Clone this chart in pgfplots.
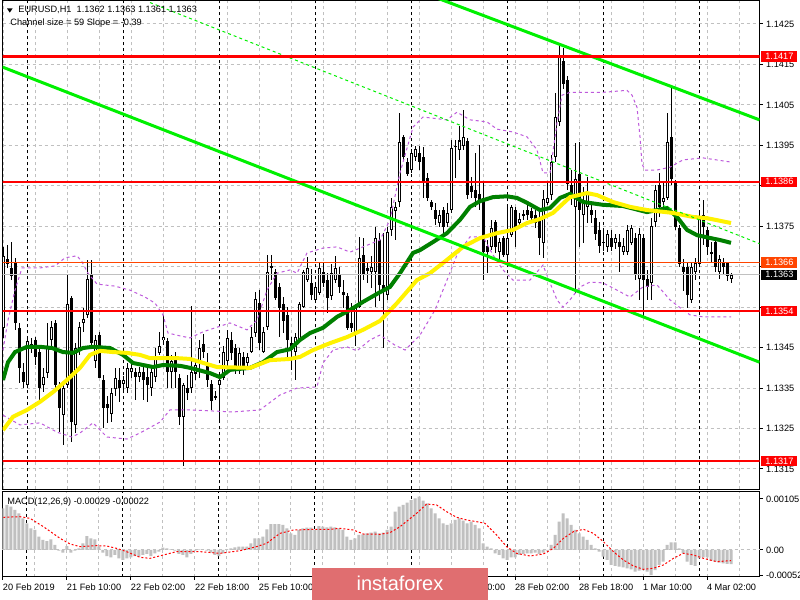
\documentclass[border=0pt]{standalone}
\usepackage{fontspec}
\setmainfont{Liberation Sans}
\usepackage{pgfplots}
\usepackage{pgfplotstable}
\pgfplotsset{compat=1.18}

\definecolor{gridgray}{RGB}{192,192,192}
\definecolor{chanlime}{RGB}{0,240,0}
\definecolor{magreen}{RGB}{0,128,0}
\definecolor{bandpurple}{RGB}{190,90,220}
\definecolor{orangered}{RGB}{255,69,0}
\definecolor{logored}{RGB}{224,110,112}
\newcommand\mtfont{\fontsize{4.6}{5.5}\selectfont}

% EURUSD H1 candles: bar index, open, high, low, close
\pgfplotstableread{
i o h l c
0 1.13499 1.13699 1.13476 1.13677
1 1.13669 1.13704 1.13647 1.13657
2 1.13649 1.13711 1.13617 1.13627
3 1.13659 1.13672 1.13494 1.13511
4 1.13501 1.13511 1.13363 1.13400
5 1.13390 1.13412 1.13350 1.13365
6 1.13358 1.13476 1.13350 1.13469
7 1.13449 1.13474 1.13437 1.13459
8 1.13469 1.13476 1.13407 1.13427
9 1.13439 1.13449 1.13316 1.13350
10 1.13358 1.13400 1.13340 1.13377
11 1.13387 1.13511 1.13375 1.13454
12 1.13469 1.13518 1.13456 1.13501
13 1.13511 1.13518 1.13350 1.13358
14 1.13358 1.13365 1.13241 1.13301
15 1.13283 1.13363 1.13209 1.13350
16 1.13358 1.13630 1.13350 1.13560
17 1.13573 1.13580 1.13217 1.13266
18 1.13259 1.13464 1.13241 1.13449
19 1.13449 1.13513 1.13432 1.13501
20 1.13511 1.13548 1.13489 1.13521
21 1.13531 1.13667 1.13523 1.13620
22 1.13630 1.13667 1.13456 1.13461
23 1.13419 1.13481 1.13400 1.13469
24 1.13481 1.13489 1.13375 1.13377
25 1.13370 1.13382 1.13251 1.13301
26 1.13311 1.13333 1.13266 1.13301
27 1.13288 1.13350 1.13266 1.13338
28 1.13350 1.13400 1.13333 1.13377
29 1.13370 1.13400 1.13316 1.13350
30 1.13360 1.13382 1.13340 1.13370
31 1.13350 1.13414 1.13340 1.13400
32 1.13390 1.13414 1.13375 1.13400
33 1.13390 1.13400 1.13321 1.13377
34 1.13377 1.13402 1.13365 1.13390
35 1.13390 1.13405 1.13321 1.13370
36 1.13377 1.13400 1.13316 1.13358
37 1.13350 1.13400 1.13333 1.13390
38 1.13377 1.13449 1.13365 1.13427
39 1.13439 1.13489 1.13432 1.13456
40 1.13469 1.13531 1.13456 1.13476
41 1.13466 1.13476 1.13350 1.13390
42 1.13390 1.13432 1.13350 1.13419
43 1.13427 1.13439 1.13350 1.13390
44 1.13377 1.13387 1.13259 1.13279
45 1.13279 1.13365 1.13160 1.13358
46 1.13350 1.13382 1.13321 1.13340
47 1.13350 1.13555 1.13340 1.13390
48 1.13387 1.13419 1.13370 1.13407
49 1.13414 1.13469 1.13377 1.13449
50 1.13461 1.13486 1.13427 1.13439
51 1.13407 1.13437 1.13353 1.13370
52 1.13360 1.13370 1.13296 1.13318
53 1.13330 1.13345 1.13321 1.13329
54 1.13358 1.13382 1.13264 1.13370
55 1.13375 1.13456 1.13370 1.13439
56 1.13419 1.13494 1.13407 1.13476
57 1.13469 1.13489 1.13419 1.13437
58 1.13449 1.13461 1.13387 1.13395
59 1.13395 1.13449 1.13387 1.13437
60 1.13427 1.13439 1.13382 1.13395
61 1.13412 1.13437 1.13395 1.13427
62 1.13439 1.13501 1.13437 1.13476
63 1.13486 1.13587 1.13476 1.13570
64 1.13560 1.13592 1.13444 1.13461
65 1.13439 1.13501 1.13437 1.13489
66 1.13501 1.13679 1.13494 1.13637
67 1.13652 1.13679 1.13617 1.13647
68 1.13637 1.13647 1.13568 1.13573
69 1.13600 1.13610 1.13476 1.13550
70 1.13560 1.13575 1.13486 1.13518
71 1.13531 1.13550 1.13419 1.13469
72 1.13461 1.13476 1.13395 1.13444
73 1.13439 1.13486 1.13370 1.13476
74 1.13469 1.13563 1.13461 1.13560
75 1.13550 1.13642 1.13548 1.13637
76 1.13617 1.13674 1.13612 1.13649
77 1.13610 1.13647 1.13568 1.13580
78 1.13568 1.13610 1.13563 1.13600
79 1.13587 1.13662 1.13580 1.13649
80 1.13637 1.13659 1.13600 1.13610
81 1.13617 1.13637 1.13538 1.13573
82 1.13578 1.13659 1.13568 1.13637
83 1.13617 1.13679 1.13612 1.13649
84 1.13630 1.13649 1.13585 1.13600
85 1.13587 1.13617 1.13548 1.13580
86 1.13580 1.13587 1.13494 1.13501
87 1.13511 1.13560 1.13489 1.13499
88 1.13486 1.13560 1.13456 1.13550
89 1.13550 1.13724 1.13548 1.13672
90 1.13679 1.13721 1.13617 1.13630
91 1.13649 1.13662 1.13610 1.13642
92 1.13637 1.13679 1.13600 1.13649
93 1.13637 1.13748 1.13550 1.13721
94 1.13716 1.13736 1.13568 1.13605
95 1.13605 1.13733 1.13449 1.13587
96 1.13580 1.13748 1.13568 1.13736
97 1.13741 1.13822 1.13728 1.13798
98 1.13788 1.13810 1.13716 1.13798
99 1.13810 1.14030 1.13798 1.13958
100 1.13971 1.13976 1.13914 1.13921
101 1.13909 1.13919 1.13874 1.13879
102 1.13889 1.13943 1.13882 1.13931
103 1.13921 1.13951 1.13914 1.13941
104 1.13931 1.13948 1.13889 1.13909
105 1.13921 1.13946 1.13820 1.13859
106 1.13869 1.13882 1.13815 1.13820
107 1.13810 1.13815 1.13790 1.13798
108 1.13790 1.13808 1.13753 1.13770
109 1.13758 1.13790 1.13748 1.13780
110 1.13790 1.13798 1.13733 1.13748
111 1.13758 1.13808 1.13748 1.13783
112 1.13790 1.13963 1.13783 1.13943
113 1.13951 1.13963 1.13869 1.13948
114 1.13939 1.14000 1.13914 1.13963
115 1.13948 1.14037 1.13939 1.13971
116 1.13961 1.13968 1.13817 1.13827
117 1.13850 1.13872 1.13820 1.13835
118 1.13840 1.13931 1.13798 1.13820
119 1.13830 1.13951 1.13790 1.13808
120 1.13820 1.13857 1.13617 1.13686
121 1.13701 1.13716 1.13634 1.13686
122 1.13699 1.13766 1.13691 1.13748
123 1.13761 1.13766 1.13684 1.13699
124 1.13686 1.13721 1.13667 1.13711
125 1.13721 1.13726 1.13674 1.13679
126 1.13679 1.13798 1.13659 1.13721
127 1.13731 1.13803 1.13724 1.13798
128 1.13790 1.13798 1.13699 1.13748
129 1.13758 1.13783 1.13748 1.13770
130 1.13780 1.13790 1.13766 1.13779
131 1.13790 1.13803 1.13766 1.13778
132 1.13788 1.13795 1.13761 1.13770
133 1.13780 1.13790 1.13746 1.13758
134 1.13770 1.13790 1.13679 1.13721
135 1.13709 1.13840 1.13672 1.13820
136 1.13808 1.13859 1.13803 1.13820
137 1.13827 1.13926 1.13815 1.13909
138 1.13921 1.14079 1.13909 1.14020
139 1.14008 1.14198 1.14000 1.14171
140 1.14159 1.14191 1.14092 1.14102
141 1.14112 1.14121 1.13840 1.13857
142 1.13852 1.13889 1.13803 1.13822
143 1.13798 1.13958 1.13587 1.13869
144 1.13879 1.13958 1.13699 1.13790
145 1.13778 1.13847 1.13709 1.13810
146 1.13798 1.13872 1.13758 1.13832
147 1.13790 1.13808 1.13758 1.13778
148 1.13770 1.13790 1.13716 1.13731
149 1.13741 1.13761 1.13686 1.13701
150 1.13711 1.13741 1.13691 1.13709
151 1.13699 1.13741 1.13686 1.13733
152 1.13721 1.13741 1.13691 1.13699
153 1.13709 1.13733 1.13696 1.13721
154 1.13711 1.13733 1.13637 1.13699
155 1.13686 1.13721 1.13679 1.13701
156 1.13686 1.13753 1.13679 1.13741
157 1.13709 1.13753 1.13704 1.13746
158 1.13721 1.13733 1.13617 1.13630
159 1.13620 1.13746 1.13568 1.13731
160 1.13721 1.13733 1.13531 1.13617
161 1.13620 1.13642 1.13568 1.13600
162 1.13610 1.13770 1.13568 1.13751
163 1.13761 1.13852 1.13748 1.13840
164 1.13852 1.13882 1.13773 1.13798
165 1.13810 1.13857 1.13790 1.13822
166 1.13822 1.14030 1.13815 1.13961
167 1.13971 1.14092 1.13852 1.13869
168 1.13857 1.13864 1.13741 1.13748
169 1.13748 1.13753 1.13649 1.13659
170 1.13649 1.13672 1.13592 1.13637
171 1.13649 1.13662 1.13548 1.13580
172 1.13568 1.13662 1.13560 1.13649
173 1.13637 1.13672 1.13617 1.13659
174 1.13659 1.13783 1.13654 1.13770
175 1.13780 1.13815 1.13704 1.13748
176 1.13741 1.13748 1.13679 1.13699
177 1.13686 1.13711 1.13662 1.13685
178 1.13711 1.13721 1.13637 1.13649
179 1.13637 1.13679 1.13620 1.13669
180 1.13659 1.13672 1.13630 1.13649
181 1.13659 1.13662 1.13617 1.13627
182 1.13620 1.13635 1.13610 1.13630
}\candles

% MACD(12,26,9) histogram
\pgfplotstableread{
i v
0 0.000858
1 0.000927
2 0.000892
3 0.000824
4 0.000755
5 0.000652
6 0.000549
7 0.000446
8 0.000412
9 0.000275
10 0.000206
11 0.000185
12 0.000220
13 0.000103
14 -0.000014
15 -0.000055
16 0.000082
17 -0.000055
18 -0.000014
19 0.000034
20 0.000137
21 0.000288
22 0.000240
23 0.000220
24 0.000069
25 -0.000055
26 -0.000124
27 -0.000151
28 -0.000103
29 -0.000172
30 -0.000206
31 -0.000172
32 -0.000151
33 -0.000124
34 -0.000137
35 -0.000103
36 -0.000082
37 -0.000124
38 -0.000069
39 -0.000034
40 0.000048
41 0.000034
42 0.000014
43 -0.000014
44 -0.000082
45 -0.000103
46 -0.000151
47 -0.000082
48 -0.000014
49 0.000014
50 0.000003
51 -0.000014
52 -0.000055
53 -0.000103
54 -0.000124
55 -0.000069
56 0.000014
57 0.000034
58 0.000055
59 0.000069
60 0.000069
61 0.000069
62 0.000137
63 0.000240
64 0.000240
65 0.000275
66 0.000426
67 0.000535
68 0.000535
69 0.000535
70 0.000515
71 0.000446
72 0.000343
73 0.000309
74 0.000412
75 0.000446
76 0.000460
77 0.000460
78 0.000412
79 0.000494
80 0.000480
81 0.000467
82 0.000480
83 0.000467
84 0.000446
85 0.000412
86 0.000275
87 0.000206
88 0.000240
89 0.000309
90 0.000323
91 0.000343
92 0.000357
93 0.000377
94 0.000343
95 0.000357
96 0.000412
97 0.000480
98 0.000789
99 0.000892
100 0.000927
101 0.000975
102 0.001029
103 0.001064
104 0.001098
105 0.001016
106 0.000961
107 0.000858
108 0.000755
109 0.000652
110 0.000549
111 0.000515
112 0.000549
113 0.000618
114 0.000652
115 0.000604
116 0.000549
117 0.000583
118 0.000515
119 0.000446
120 0.000137
121 0.000069
122 0.000034
123 -0.000069
124 -0.000103
125 -0.000172
126 -0.000206
127 -0.000151
128 -0.000151
129 -0.000103
130 -0.000082
131 -0.000069
132 -0.000069
133 -0.000055
134 -0.000082
135 -0.000055
136 -0.000014
137 0.000103
138 0.000309
139 0.000583
140 0.000755
141 0.000652
142 0.000515
143 0.000412
144 0.000343
145 0.000275
146 0.000206
147 0.000103
148 0.000034
149 -0.000034
150 -0.000137
151 -0.000206
152 -0.000309
153 -0.000329
154 -0.000343
155 -0.000357
156 -0.000377
157 -0.000398
158 -0.000446
159 -0.000426
160 -0.000412
161 -0.000446
162 -0.000515
163 -0.000412
164 -0.000309
165 -0.000240
166 0.000103
167 0.000158
168 0.000158
169 0.000034
170 -0.000069
171 -0.000240
172 -0.000309
173 -0.000329
174 -0.000172
175 -0.000151
176 -0.000151
177 -0.000220
178 -0.000240
179 -0.000261
180 -0.000275
181 -0.000288
182 -0.000290
}\macdhist

\pgfplotsset{
  mtbase/.style={
    scale only axis,
    xmin=-0.125, xmax=189.125,
    axis line style={black, line width=0.5pt},
    tick label style={font=\mtfont, /pgf/number format/assume math mode=true},
    tick align=outside, major tick length=1.5pt, minor tick length=0pt,
    tick style={black, line width=0.5pt},
    xtick={0,16,...,176}, minor xtick={8,24,...,184},
    xmajorgrids, xminorgrids,
    major grid style={gridgray, line width=0.5pt, dash pattern=on 1.5pt off 1.5pt},
    minor grid style={gridgray, line width=0.5pt, dash pattern=on 1.5pt off 1.5pt},
    extra x ticks={6,30,...,174}, extra x tick labels={},
    extra x tick style={grid=major, major tick length=0pt,
      major grid style={black, line width=0.5pt, dash pattern=on 1.5pt off 1.5pt}},
    ytick pos=right, yticklabel pos=right,
    yticklabel style={anchor=west, inner sep=0pt, xshift=1.6pt},
    scaled y ticks=false,
  },
}

\begin{document}
\begin{tikzpicture}
\useasboundingbox (0,0) rectangle (400pt,300pt);
\fill[white] (0,0) rectangle (400pt,300pt);

% ---- price window
\begin{axis}[mtbase,
  at={(1.25pt,55.25pt)}, anchor=south west,
  width=378.5pt, height=244.25pt,
  ymin=1.130993, ymax=1.143068,
  xticklabels={}, xtick style={draw=none},
  ymajorgrids,
  ytick={1.1315,1.1325,1.1335,1.1345,1.1355,1.1365,1.1375,1.1385,1.1395,1.1405,1.1415,1.1425},
  % 1.1355, 1.1365 and 1.1385 sit under the level tags
  yticklabels={1.1315,1.1325,1.1335,1.1345,,,1.1375,,1.1395,1.1405,1.1415,1.1425},
]
% wicks
\addplot[draw=none, mark=none, forget plot,
  error bars/.cd, y dir=both, y explicit, error mark=none,
  error bar style={draw=black, line width=0.5pt}]
  table[x=i, y expr={(\thisrow{h}+\thisrow{l})/2},
        y error expr={(\thisrow{h}-\thisrow{l})/2}] {\candles};
% bodies
\addplot[draw=none, mark=none, forget plot,
  error bars/.cd, y dir=both, y explicit, error mark=none,
  error bar style={draw=black, line width=1.5pt}]
  table[x=i, y expr={(\thisrow{o}+\thisrow{c})/2},
        y error expr={max(abs(\thisrow{c}-\thisrow{o})/2,0.000012)}] {\candles};
% hollow inside of rising candles
\addplot[draw=none, mark=none, forget plot,
  error bars/.cd, y dir=both, y explicit, error mark=none,
  error bar style={draw=white, line width=0.5pt}]
  table[x=i, y expr={(\thisrow{o}+\thisrow{c})/2},
        y error expr={(\thisrow{c}>\thisrow{o})*max((\thisrow{c}-\thisrow{o})/2-0.000025,0)}] {\candles};

% envelope bands
\addplot[bandpurple, line width=0.5pt, dash pattern=on 1.5pt off 1.5pt] coordinates {
(0,1.13444) (1.25,1.13518) (3,1.13592) (4.75,1.13647) (9.25,1.13647) (13,1.13652) (15.5,1.13672) (18.5,1.13677) (19.75,1.13662) (21.25,1.13634) (23.5,1.13607) (28,1.13602) (31.75,1.13592) (35.5,1.13575) (38,1.13560) (40,1.13531) (41.25,1.13486) (44.25,1.13479) (46.75,1.13474) (50,1.13489) (56.75,1.13511) (61,1.13494) (63.5,1.13518) (66,1.13592) (68.5,1.13634) (71.75,1.13642) (73.5,1.13634) (76,1.13684) (80,1.13696) (83.5,1.13699) (86.75,1.13686) (90,1.13699) (94.25,1.13716) (96.75,1.13766) (99.25,1.13882) (102.5,1.13995) (105,1.14020) (111,1.14013) (113.5,1.14032) (116.75,1.14013) (121,1.14008) (123.5,1.13990) (127.5,1.13983) (131,1.13971) (133.5,1.13939) (135,1.13882) (136.75,1.13882) (138.5,1.14005) (139.75,1.14074) (141.75,1.14081) (150,1.14081) (156,1.14086) (157.25,1.14074) (158.5,1.14044) (159.25,1.13971) (159.75,1.13904) (160.5,1.13889) (163.5,1.13889) (166.75,1.13896) (170,1.13914) (175,1.13919) (181.75,1.13909)};
\addplot[bandpurple, line width=0.5pt, dash pattern=on 1.5pt off 1.5pt] coordinates {
(0,1.13283) (4.25,1.13259) (9.25,1.13264) (13.5,1.13241) (17.25,1.13229) (19.25,1.13239) (22.5,1.13264) (26,1.13229) (31,1.13224) (34.25,1.13239) (39.25,1.13266) (41.75,1.13296) (46.75,1.13296) (57.5,1.13291) (64.25,1.13296) (69.25,1.13333) (73.5,1.13350) (78.5,1.13353) (80,1.13412) (82.5,1.13444) (86,1.13452) (88.5,1.13442) (91.75,1.13469) (94.25,1.13481) (98,1.13456) (100.5,1.13444) (104.25,1.13481) (108,1.13543) (111,1.13617) (113.5,1.13679) (116.75,1.13724) (120,1.13724) (122.5,1.13679) (125,1.13642) (127.5,1.13617) (131.75,1.13617) (135,1.13654) (136.75,1.13610) (138.5,1.13568) (140,1.13550) (141.75,1.13568) (144.25,1.13600) (146.75,1.13612) (150,1.13610) (153.5,1.13592) (156.75,1.13575) (160,1.13600) (163.5,1.13605) (166.75,1.13568) (170,1.13543) (171.75,1.13531) (175,1.13526) (182,1.13526)};

% moving averages
\addplot[magreen, line width=2pt] coordinates {
(0,1.13370) (1.25,1.13414) (3,1.13439) (6,1.13452) (9.25,1.13452) (12.25,1.13449) (15,1.13439) (17.5,1.13437) (20,1.13449) (22.5,1.13452) (26.75,1.13449) (30,1.13432) (32.5,1.13412) (36,1.13405) (37.5,1.13402) (40,1.13407) (44.25,1.13405) (46.75,1.13400) (51.75,1.13387) (54.25,1.13377) (56.75,1.13395) (61.75,1.13400) (65,1.13414) (68.5,1.13439) (71.75,1.13446) (74.25,1.13469) (76.75,1.13486) (80,1.13499) (83.5,1.13526) (86.75,1.13543) (90,1.13563) (94.25,1.13587) (96.75,1.13600) (99.25,1.13634) (102.5,1.13684) (104.25,1.13691) (107.5,1.13711) (111,1.13733) (114.25,1.13766) (116.75,1.13798) (119.25,1.13812) (122.5,1.13822) (126,1.13824) (128.5,1.13820) (131,1.13808) (134.25,1.13790) (136.75,1.13795) (139.25,1.13820) (141.75,1.13830) (145,1.13810) (150,1.13803) (155,1.13800) (161,1.13785) (163.5,1.13790) (166,1.13795) (168.5,1.13773) (171,1.13741) (173.5,1.13728) (176.75,1.13721) (179.25,1.13716) (182,1.13709)};
\addplot[yellow, line width=2pt] coordinates {
(0,1.13246) (2.5,1.13279) (6,1.13296) (9.25,1.13316) (12.5,1.13340) (16,1.13370) (19.25,1.13400) (21.75,1.13432) (24.25,1.13442) (27.5,1.13439) (31,1.13437) (34.25,1.13432) (36.75,1.13424) (43.5,1.13424) (46.75,1.13422) (53.5,1.13402) (61.75,1.13400) (66.75,1.13419) (71.75,1.13422) (74.25,1.13427) (77.5,1.13444) (81.75,1.13461) (86,1.13476) (90,1.13494) (94.25,1.13516) (98.5,1.13560) (103.5,1.13617) (106.75,1.13634) (111,1.13667) (115,1.13699) (119.25,1.13721) (123.5,1.13733) (127.5,1.13741) (131,1.13758) (134.25,1.13768) (137.5,1.13783) (141.75,1.13822) (146,1.13832) (148.5,1.13827) (152.5,1.13810) (156.75,1.13798) (161,1.13790) (167.5,1.13783) (172.5,1.13773) (176,1.13770) (182,1.13758)};

% regression channel
\addplot[chanlime, line width=1.5pt] coordinates {(100,1.14346) (189.125,1.14013)};
\addplot[chanlime, line width=1.5pt] coordinates {(-0.25,1.14144) (189.125,1.13414)};
\addplot[chanlime, line width=0.5pt, dash pattern=on 1.5pt off 1.5pt] coordinates {(36.75,1.14303) (189.125,1.13707)};

% levels
\addplot[red, line width=1.25pt] coordinates {(-1,1.1417) (190,1.1417)};
\addplot[red, line width=1.25pt] coordinates {(-1,1.1386) (190,1.1386)};
\addplot[red, line width=1.25pt] coordinates {(-1,1.1354) (190,1.1354)};
\addplot[red, line width=1.25pt] coordinates {(-1,1.1317) (190,1.1317)};
\addplot[orangered, line width=0.5pt] coordinates {(-1,1.1366) (190,1.1366)};
\addplot[gridgray, line width=0.6pt] coordinates {(-1,1.1363) (190,1.1363)};

\coordinate (L1) at (axis cs:189.125,1.1417);
\coordinate (L2) at (axis cs:189.125,1.1386);
\coordinate (L3) at (axis cs:189.125,1.1366);
\coordinate (L4) at (axis cs:189.125,1.1363);
\coordinate (L5) at (axis cs:189.125,1.1354);
\coordinate (L6) at (axis cs:189.125,1.1317);
\end{axis}

% ---- MACD window
\begin{axis}[mtbase,
  at={(1.25pt,11.5pt)}, anchor=south west,
  width=378.5pt, height=42.5pt,
  ymin=-0.000556, ymax=0.0011942,
  xtick pos=bottom,
  % 26 Feb labels are hidden behind the watermark
  xticklabels={20 Feb 2019,21 Feb 10:00,22 Feb 02:00,22 Feb 18:00,25 Feb 10:00,,,27 Feb 10:00,28 Feb 02:00,28 Feb 18:00,1 Mar 10:00,4 Mar 02:00},
  xticklabel style={anchor=north west, inner sep=0pt, xshift=-0.2pt, yshift=-1.6pt},
  ytick={-0.00052,0.00105}, yticklabels={-0.00052,0.00105},
  extra y ticks={0}, extra y tick labels={0.00},
  extra y tick style={grid=major,
    major grid style={gridgray, line width=0.5pt, dash pattern=on 1.5pt off 1.5pt}},
]
\addplot[ybar, bar width=1.5pt, fill=gridgray, draw=none] table[x=i, y=v] {\macdhist};
\addplot[red, line width=0.5pt, dash pattern=on 1pt off 1pt] coordinates {
(0.1,0.000673) (4.25,0.000686) (6.75,0.000652) (10.1,0.000480) (14.25,0.000240) (16.75,0.000124) (19.25,0.000069) (23.4,0.000089) (25.9,0.000082) (28.4,0.000034) (30.9,-0.000034) (34.25,-0.000151) (36.75,-0.000172) (40.1,-0.000103) (43.4,-0.000034) (49.25,-0.000034) (54.25,-0.000069) (59.25,-0.000014) (63.4,0.000069) (65.9,0.000137) (69.25,0.000343) (72.6,0.000412) (78.4,0.000426) (81.75,0.000426) (84.25,0.000446) (87.6,0.000412) (90.1,0.000329) (94.25,0.000323) (96.75,0.000357) (99.25,0.000480) (103.4,0.000755) (105.9,0.000947) (108.4,0.000927) (110.9,0.000789) (113.4,0.000673) (115.9,0.000618) (118.4,0.000583) (120.5,0.000549) (123.4,0.000309) (125.9,0.000069) (128.4,-0.000069) (131.75,-0.000124) (135.1,-0.000082) (137.6,0.000034) (140.1,0.000240) (142.6,0.000377) (145.1,0.000426) (147.6,0.000343) (150.1,0.000172) (152.6,-0.000034) (155.1,-0.000206) (157.6,-0.000329) (160.1,-0.000398) (162.6,-0.000377) (165.1,-0.000309) (167.6,-0.000172) (170.1,-0.000069) (172.6,-0.000103) (175.1,-0.000172) (178.4,-0.000240) (182,-0.000220)};
\end{axis}

% price tags on the right scale
\tikzset{tag/.style={anchor=west, xshift=0.75pt, minimum width=18pt, minimum height=5.25pt,
  inner sep=0pt, text=white, font=\mtfont}}
\node[tag, fill=red] at (L1) {1.1417};
\node[tag, fill=red] at (L2) {1.1386};
\node[tag, fill=orangered] at (L3) {1.1366};
\node[tag, fill=black] at (L4) {1.1363};
\node[tag, fill=red] at (L5) {1.1354};
\node[tag, fill=red] at (L6) {1.1317};

% window captions
\fill (3.5pt,295.8pt) -- (6.3pt,295.8pt) -- (4.9pt,293.7pt) -- cycle;
\node[anchor=west, inner sep=0pt, font=\mtfont] at (9pt,294.9pt) {EURUSD,H1\ \ 1.1362 1.1363 1.1361 1.1363};
\node[anchor=west, inner sep=0pt, font=\mtfont] at (5pt,288.3pt) {Channel size = 59 Slope = -0.39};
\node[anchor=west, inner sep=0pt, font=\mtfont] at (3.5pt,49pt) {MACD(12,26,9) -0.00029 -0.00022};

% watermark
\fill[logored] (156pt,0pt) rectangle (244pt,16pt);
\node[text=white, inner sep=0pt, font=\fontsize{10}{12}\selectfont] at (200pt,8.3pt) {instaforex};
\end{tikzpicture}
\end{document}
